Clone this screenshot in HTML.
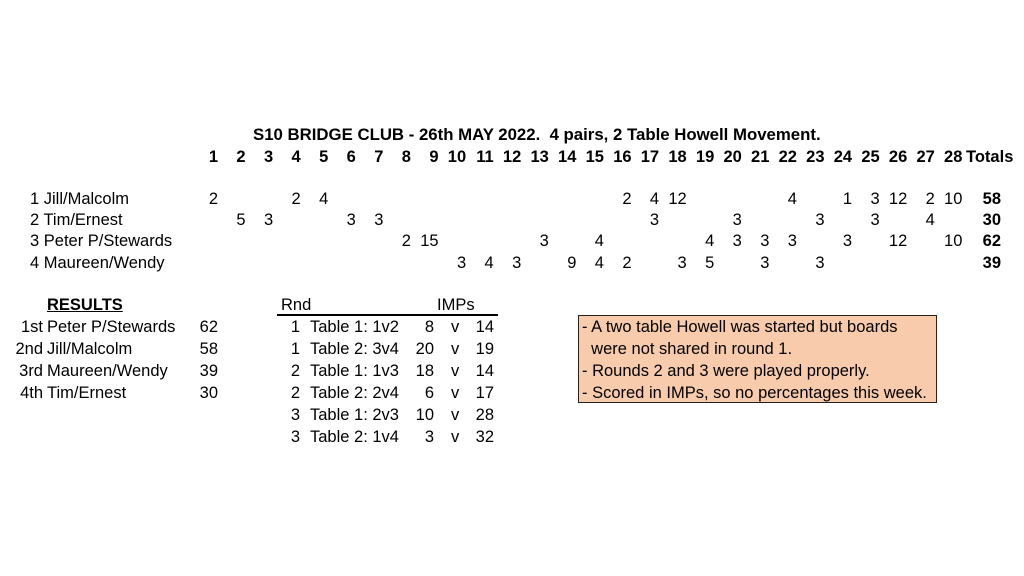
<!DOCTYPE html>
<html><head><meta charset="utf-8"><style>
html,body{margin:0;padding:0;background:#fff;}
body{width:1024px;height:576px;position:relative;overflow:hidden;font-family:"Liberation Sans",Arial,sans-serif;font-size:16.5px;color:#000;}
.t{position:absolute;white-space:nowrap;line-height:18px;}
.r{position:absolute;width:60px;text-align:right;white-space:nowrap;line-height:18px;}
.b{font-weight:bold;}
.h{font-size:16.5px;}
</style></head><body>
<div class="t b" style="left:253px;top:126px;font-size:16.8px;">S10 BRIDGE CLUB - 26th MAY 2022.&nbsp; 4 pairs, 2 Table Howell Movement.</div>
<div id="g"></div>
<div class="t b" style="left:966px;top:148px;font-size:16.5px;">Totals</div>

<div class="t" style="left:30px;top:190px;">1 Jill/Malcolm</div>
<div class="t" style="left:30px;top:211px;">2 Tim/Ernest</div>
<div class="t" style="left:30px;top:232px;">3 Peter P/Stewards</div>
<div class="t" style="left:30px;top:254px;">4 Maureen/Wendy</div>

<div class="t b" style="left:47px;top:296px;text-decoration:underline;">RESULTS</div>
<div class="r" style="left:-17px;top:318px;">1st</div><div class="t" style="left:47px;top:318px;">Peter P/Stewards</div><div class="r" style="left:158px;top:318px;">62</div>
<div class="r" style="left:-17px;top:340px;">2nd</div><div class="t" style="left:47px;top:340px;">Jill/Malcolm</div><div class="r" style="left:158px;top:340px;">58</div>
<div class="r" style="left:-17px;top:362px;">3rd</div><div class="t" style="left:47px;top:362px;">Maureen/Wendy</div><div class="r" style="left:158px;top:362px;">39</div>
<div class="r" style="left:-17px;top:384px;">4th</div><div class="t" style="left:47px;top:384px;">Tim/Ernest</div><div class="r" style="left:158px;top:384px;">30</div>

<div class="t" style="left:281px;top:296px;">Rnd</div>
<div class="t" style="left:437px;top:296px;">IMPs</div>
<div style="position:absolute;left:277px;top:314px;width:221px;height:1.5px;background:#000;"></div>

<div style="position:absolute;left:578px;top:315px;width:357px;height:86px;background:#f8cbad;border:1.5px solid #222;"></div>
<div class="t" style="left:582px;top:318px;">- A two table Howell was started but boards</div>
<div class="t" style="left:582px;top:340px;">&nbsp; were not shared in round 1.</div>
<div class="t" style="left:582px;top:362px;">- Rounds 2 and 3 were played properly.</div>
<div class="t" style="left:582px;top:384px;">- Scored in IMPs, so no percentages this week.</div>

<script>
(function(){
var g=document.getElementById('g'),h='';
function r(c){return 218+(c-1)*27.57;}
function put(x,y,txt,cls){h+='<div class="r '+(cls||'')+'" style="left:'+(x-60)+'px;top:'+y+'px;">'+txt+'</div>';}
for(var c=1;c<=28;c++)put(r(c),148,c,'b h');
var rows=[
 [190,{1:2,4:2,5:4,16:2,17:4,18:12,22:4,24:1,25:3,26:12,27:2,28:10},58],
 [211,{2:5,3:3,6:3,7:3,17:3,20:3,23:3,25:3,27:4},30],
 [232,{8:2,9:15,13:3,15:4,19:4,20:3,21:3,22:3,24:3,26:12,28:10},62],
 [254,{10:3,11:4,12:3,14:9,15:4,16:2,18:3,19:5,21:3,23:3},39]];
rows.forEach(function(R){for(var k in R[1])put(r(+k),R[0],R[1][k]);put(1001,R[0],R[2],'b');});
var t=[[1,'Table 1: 1v2',8,14],[1,'Table 2: 3v4',20,19],[2,'Table 1: 1v3',18,14],[2,'Table 2: 2v4',6,17],[3,'Table 1: 2v3',10,28],[3,'Table 2: 1v4',3,32]];
t.forEach(function(a,i){var y=318+i*22;put(300,y,a[0]);h+='<div class="t" style="left:310px;top:'+y+'px;">'+a[1]+'</div>';put(434,y,a[2]);h+='<div class="t" style="left:451px;top:'+y+'px;">v</div>';put(494,y,a[3]);});
g.innerHTML=h;
})();
</script>
</body></html>
